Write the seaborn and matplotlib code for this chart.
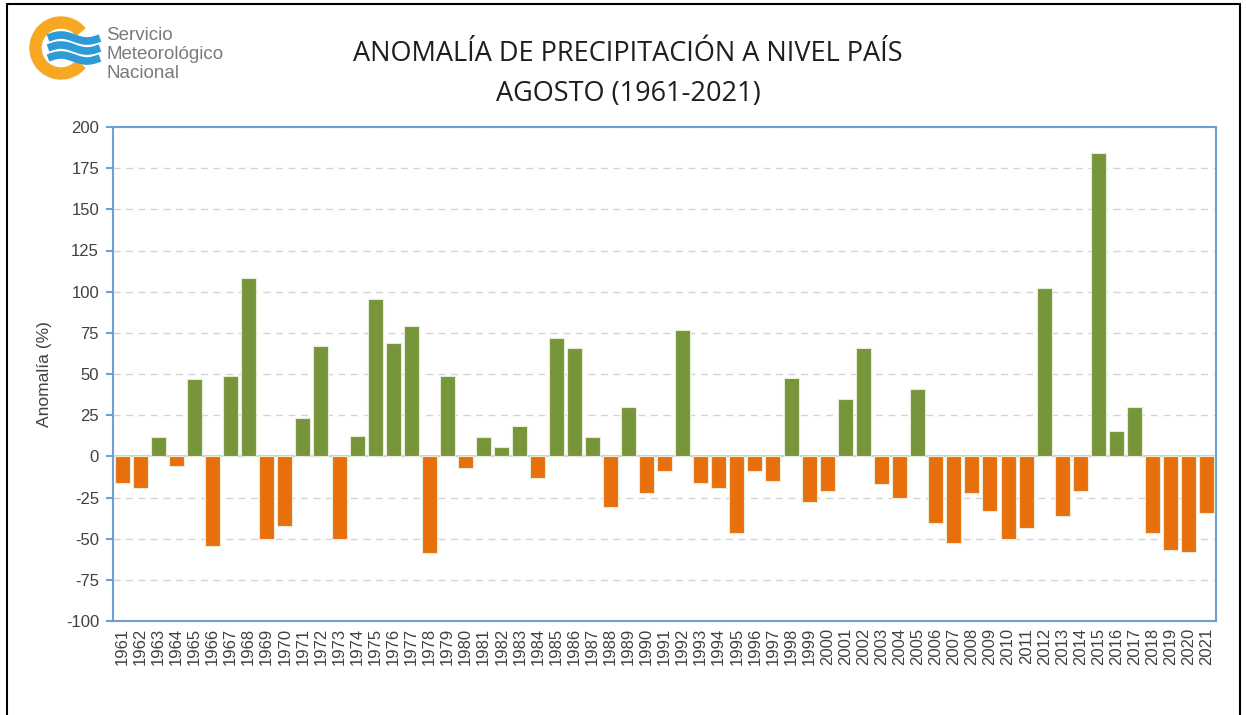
import numpy as np
import pandas as pd
import matplotlib
matplotlib.use("Agg")
import matplotlib.pyplot as plt
import seaborn as sns
from matplotlib.patches import Wedge
from matplotlib.lines import Line2D

# Datos (anomalía de precipitación, agosto)
anios = list(range(1961, 2022))
anomalia = [-16, -19, 11.5, -6, 47, -54.5, 48.5, 108.5, -50.5, -42.5,
            23, 67, -50.5, 12.5, 95.5, 69, 79, -59, 48.5, -7,
            11.5, 5.5, 18.5, -13, 72, 66, 11.5, -31, 30, -22,
            -9, 77, -16, -19, -46.5, -9, -15, 47.5, -28, -21,
            35, 66, -17, -25, 41, -40.5, -52.5, -22, -33.5, -50.5,
            -43.5, 102.5, -36.5, -21, 184, 15.5, 30, -46.5, -57, -58,
            -34.5]

verde = "#77963b"
naranja = "#e8700c"
azul = "#6f9fd6"

df = pd.DataFrame({"anio": [str(a) for a in anios], "anomalia": anomalia})
df["signo"] = np.where(df["anomalia"] >= 0, "pos", "neg")

sns.set_style("white")
plt.rcParams["font.family"] = ["Liberation Sans", "DejaVu Sans"]
plt.rcParams["axes.unicode_minus"] = False

fig = plt.figure(figsize=(12.46, 7.15), dpi=100)
W, H = 1246, 715
ax = fig.add_axes([113 / W, 1 - 621 / H, (1216 - 113) / W, (621 - 127) / H])

sns.barplot(data=df, x="anio", y="anomalia", hue="signo",
            palette={"pos": verde, "neg": naranja}, dodge=False,
            legend=False, width=0.83, edgecolor="#e6ecd8", linewidth=0.8,
            saturation=1, ax=ax, zorder=3)

ax.set_xlim(-0.5, len(anios) - 0.5)
ax.set_ylim(-100, 200)
ax.set_yticks(range(-100, 201, 25))
ax.yaxis.grid(True, linestyle=(0, (5, 4)), color="#d4d4d4", linewidth=1, zorder=0)
ax.axhline(0, color="#c8c8c8", linewidth=1.2, zorder=2)

for s in ax.spines.values():
    s.set_color(azul)
    s.set_linewidth(1.5)

ax.tick_params(axis="y", direction="out", length=5, width=1.5, color=azul,
               labelsize=12, labelcolor="#404040", pad=5, left=True)
ax.tick_params(axis="x", length=0, labelsize=12, labelcolor="#404040",
               rotation=90, pad=5)
ax.set_xlabel("")
ax.set_ylabel("Anomalía (%)", fontsize=12.5, color="#404040", labelpad=10)

# Título
fig.text(628 / W, 1 - 54 / H, "ANOMALÍA DE PRECIPITACIÓN A NIVEL PAÍS",
         ha="center", va="center", fontsize=19.5, color="#1e1e1e",
         family=["Open Sans", "DejaVu Sans"])
fig.text(628 / W, 1 - 94 / H, "AGOSTO (1961-2021)",
         ha="center", va="center", fontsize=19.5, color="#1e1e1e",
         family=["Open Sans", "DejaVu Sans"])

# Logo aproximado del SMN
lax = fig.add_axes([28 / W, 1 - 88 / H, 80 / W, 80 / H])
lax.set_xlim(0, 80)
lax.set_ylim(0, 80)
lax.set_aspect("equal")
lax.axis("off")
lax.add_patch(Wedge((33, 40), 31, 40, 320, width=11, color="#f7a823"))
xs = np.linspace(20, 72, 50)
for y0 in (50, 40, 30):
    lax.plot(xs, y0 + 3 * np.sin((xs - 20) / 52 * 2 * np.pi), color="#2e9ad6",
             linewidth=5.5, solid_capstyle="butt")

for i, t in enumerate(["Servicio", "Meteorológico", "Nacional"]):
    fig.text(106 / W, 1 - (36 + i * 18.5) / H, t, ha="left", va="center",
             fontsize=13.5, color="#7a7a7a")

# Marco exterior
for xy in ([(7, 7), (4, 716)], [(7, 1240), (4, 4)], [(1240, 1240), (4, 716)]):
    fig.add_artist(Line2D([xy[0][0] / W, xy[0][1] / W],
                          [1 - xy[1][0] / H, 1 - xy[1][1] / H],
                          color="black", linewidth=1.5))

fig.savefig("out.png", dpi=100)
